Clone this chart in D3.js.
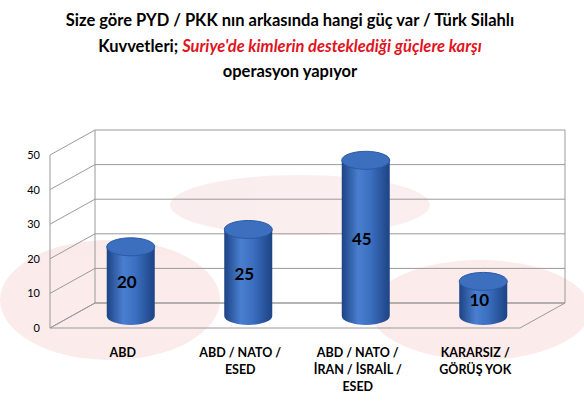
<!DOCTYPE html>
<html><head><meta charset="utf-8">
<script src="https://cdn.jsdelivr.net/npm/d3@7"></script>
<style>body{margin:0;background:#fff}svg{font-family:Lato,"Open Sans",sans-serif}</style>
</head><body><svg id="c" width="584" height="418"></svg>
<script>
const categories=[["ABD"],["ABD / NATO /","ESED"],["ABD /  NATO /","İRAN / İSRAİL /","ESED"],["KARARSIZ /","GÖRÜŞ YOK"]];
const values=[20,25,45,10];
const ticks=[0,10,20,30,40,50];
const svg=d3.select("#c");
const bg=svg.append("g").attr("opacity",0.09);
bg.append("ellipse").attr("cx",110).attr("cy",300).attr("rx",110).attr("ry",60).attr("fill","#d22");
bg.append("ellipse").attr("cx",480).attr("cy",310).attr("rx",110).attr("ry",50).attr("fill","#d22");
bg.append("ellipse").attr("cx",300).attr("cy",205).attr("rx",130).attr("ry",30).attr("fill","#c44");
const y=d3.scaleLinear().domain([0,50]).range([328,155]);
const x=d3.scaleBand().domain(d3.range(values.length)).range([50,520]);
const dx=45,dy=-25,mx=22,my=-12;
const g=svg.append("g").attr("stroke","#9a9a9a").attr("fill","none");
g.append("path").attr("d",`M50,${y(0)}L520,${y(0)}L${520+dx},${y(0)+dy}L${50+dx},${y(0)+dy}Z`);
ticks.forEach(t=>{g.append("path").attr("d",`M50,${y(t)}L${50+dx},${y(t)+dy}L${520+dx},${y(t)+dy}`);});
g.append("line").attr("x1",50).attr("x2",50).attr("y1",y(0)).attr("y2",y(50));
g.append("line").attr("x1",50+dx).attr("x2",50+dx).attr("y1",y(0)+dy).attr("y2",y(50)+dy);
g.append("line").attr("x1",520+dx).attr("x2",520+dx).attr("y1",y(0)+dy).attr("y2",y(50)+dy);
svg.selectAll(".tk").data(ticks).join("text").attr("x",40).attr("y",d=>y(d)+4).attr("text-anchor","end").attr("font-size",11).text(d=>d);
const defs=svg.append("defs");
const gr=defs.append("linearGradient").attr("id","cy");
[[0,"#1d4384"],[0.35,"#4a7fd0"],[0.6,"#3b6fc0"],[1,"#1d4384"]].forEach(s=>gr.append("stop").attr("offset",s[0]).attr("stop-color",s[1]));
const w=48,ry=9;
values.forEach((v,i)=>{
 const cx=x(i)+x.bandwidth()/2+mx, top=y(v)+my, bot=y(0)+my;
 const b=svg.append("g");
 b.append("path").attr("d",`M${cx-w/2},${top}L${cx-w/2},${bot}A${w/2},${ry} 0 0 0 ${cx+w/2},${bot}L${cx+w/2},${top}Z`).attr("fill","url(#cy)");
 b.append("ellipse").attr("cx",cx).attr("cy",top).attr("rx",w/2).attr("ry",ry).attr("fill","#3d6fbf").attr("stroke","#2a5aa6");
 b.append("text").attr("x",cx-4).attr("y",(top+bot)/2+7).attr("text-anchor","middle").attr("font-weight","bold").attr("font-size",17).text(v);
 categories[i].forEach((l,j)=>svg.append("text").attr("x",x(i)+x.bandwidth()/2+14).attr("y",357+j*17).attr("text-anchor","middle").attr("font-weight","bold").attr("font-size",12.5).text(l));
});
const tt=svg.append("g").attr("font-weight","bold").attr("font-size",16.5).attr("text-anchor","middle");
tt.append("text").attr("x",290).attr("y",26).text("Size göre PYD / PKK nın arkasında hangi güç var / Türk Silahlı");
const t2=tt.append("text").attr("x",290).attr("y",52);
t2.append("tspan").text("Kuvvetleri; ");
t2.append("tspan").attr("fill","#e0141e").attr("font-style","italic").text("Suriye'de kimlerin desteklediği güçlere karşı");
tt.append("text").attr("x",290).attr("y",77).text("operasyon yapıyor");
</script></body></html>
